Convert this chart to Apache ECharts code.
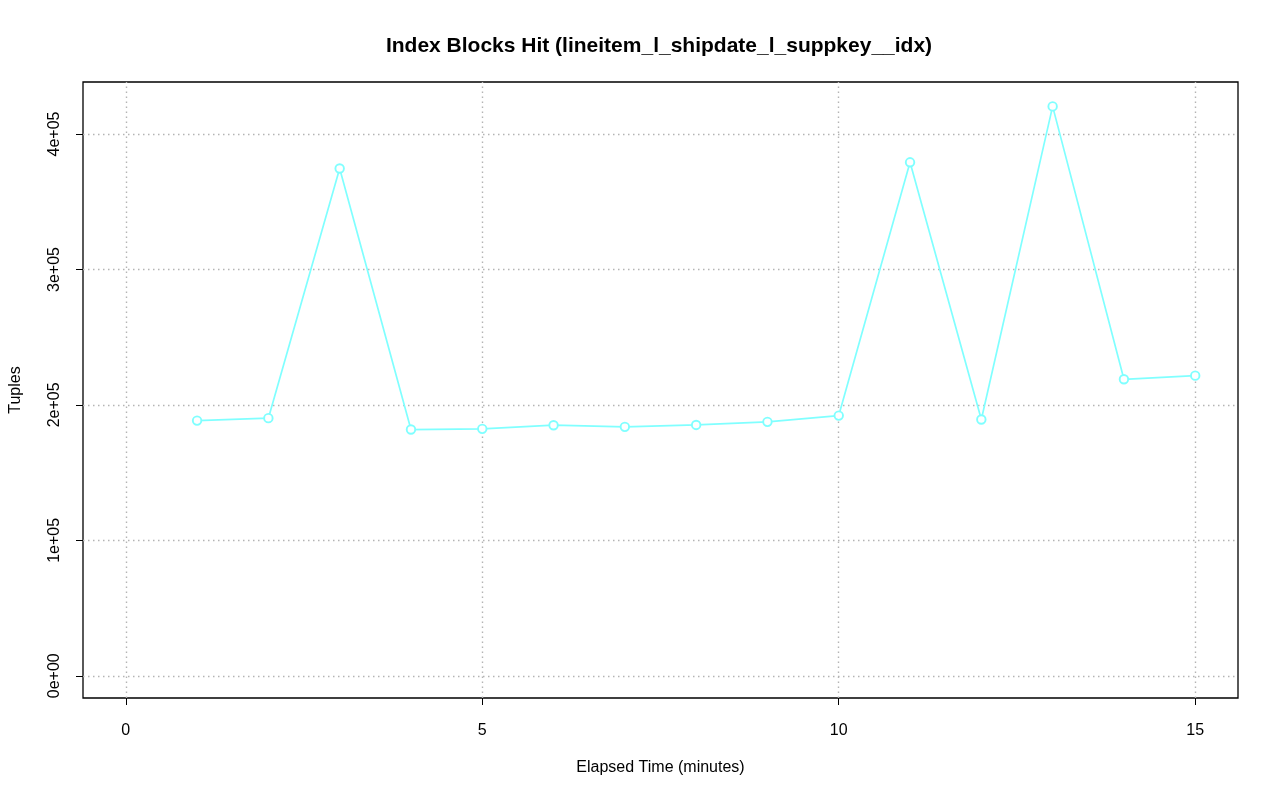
<!DOCTYPE html>
<html>
<head>
<meta charset="utf-8">
<script src="https://cdn.jsdelivr.net/npm/echarts@6/dist/echarts.min.js"></script>
<style>html,body{margin:0;padding:0;background:#fff}#c{width:1280px;height:801px}</style>
</head>
<body>
<div id="c"></div>
<script>
var minutes = [1, 2, 3, 4, 5, 6, 7, 8, 9, 10, 11, 12, 13, 14, 15];
var tuples = [188400, 190200, 374500, 181800, 182300, 185000, 183800, 185200, 187500, 192100, 379100, 189200, 420400, 218900, 221600];
var xTicks = [0, 5, 10, 15];
var yTicks = [0, 100000, 200000, 300000, 400000];
var yTickLabels = ['0e+00', '1e+05', '2e+05', '3e+05', '4e+05'];

var FONT = 'Liberation Sans, Arial, Helvetica, sans-serif';
var chart = echarts.init(document.getElementById('c'), null, {renderer: 'canvas'});

var gridLines = [];
xTicks.forEach(function (v) { gridLines.push({xAxis: v}); });
yTicks.forEach(function (v) { gridLines.push({yAxis: v}); });

chart.setOption({
  backgroundColor: '#ffffff',
  animation: false,
  title: {
    text: 'Index Blocks Hit (lineitem_l_shipdate_l_suppkey__idx)',
    left: 654, top: 31, textAlign: 'center',
    textStyle: {fontFamily: FONT, fontSize: 21, fontWeight: 'bold', color: '#000'}
  },
  grid: {left: 81, right: 42, top: 82, bottom: 103, show: true, borderColor: '#000', borderWidth: 1.3, backgroundColor: 'transparent'},
  xAxis: {
    type: 'value', min: -0.6, max: 15.6,
    name: 'Elapsed Time (minutes)', nameLocation: 'middle', nameGap: 62,
    nameTextStyle: {fontFamily: FONT, fontSize: 16, color: '#000'},
    axisLine: {show: false, onZero: false},
    axisTick: {show: true, inside: false, length: 7, customValues: xTicks, lineStyle: {color: '#000', width: 1}},
    axisLabel: {show: true, margin: 25, customValues: xTicks, fontFamily: FONT, fontSize: 16, color: '#000'},
    splitLine: {show: false}
  },
  yAxis: {
    type: 'value', min: -16400, max: 438400,
    name: 'Tuples', nameLocation: 'middle', nameGap: 59, nameRotate: 90,
    nameTextStyle: {fontFamily: FONT, fontSize: 16, color: '#000'},
    axisLine: {show: false, onZero: false},
    axisTick: {show: true, inside: false, length: 7, customValues: yTicks, lineStyle: {color: '#000', width: 1}},
    axisLabel: {
      show: true, margin: 20, rotate: 90, customValues: yTicks, fontFamily: FONT, fontSize: 16, color: '#000',
      formatter: function (v) { var i = yTicks.indexOf(v); return i >= 0 ? yTickLabels[i] : ''; }
    },
    splitLine: {show: false}
  },
  series: [{
    type: 'line',
    data: minutes.map(function (m, i) { return [m, tuples[i]]; }),
    symbol: 'circle', symbolSize: 8.5,
    lineStyle: {color: '#80ffff', width: 1.7},
    itemStyle: {color: '#ffffff', borderColor: '#80ffff', borderWidth: 1.9},
    z: 5,
    markLine: {
      silent: true, symbol: ['none', 'none'], label: {show: false},
      lineStyle: {color: '#b4b4b4', type: [1.5, 3.5], width: 1.4},
      emphasis: {disabled: true},
      data: gridLines
    }
  }]
});
</script>
</body>
</html>
